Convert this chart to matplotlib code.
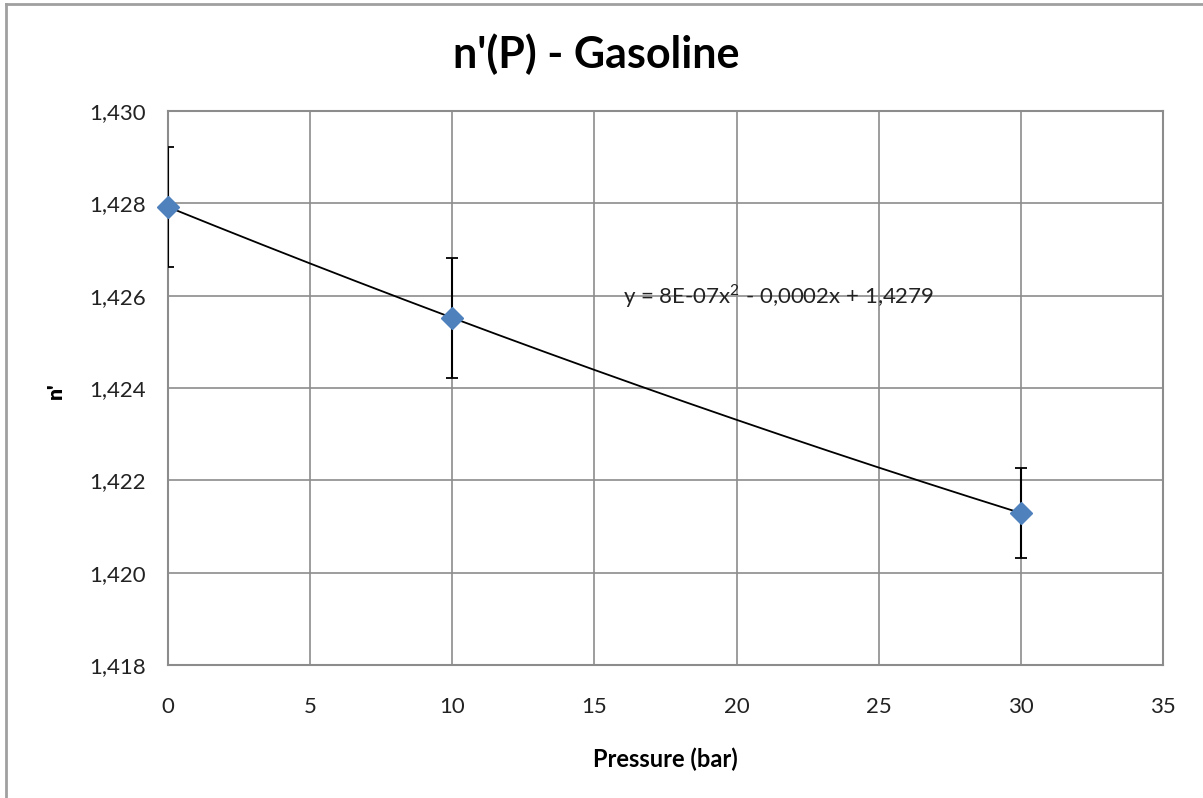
import numpy as np
import matplotlib
matplotlib.use("Agg")
import matplotlib.pyplot as plt
from matplotlib.ticker import FuncFormatter, MultipleLocator
from matplotlib.lines import Line2D

pressure = [0, 10, 30]
n_prime = [1.42792, 1.42552, 1.42129]
n_err = [0.0013, 0.0013, 0.00097]
title = "n'(P) - Gasoline"
x_label = "Pressure (bar)"
y_label = "n'"
equation = "y = 8E-07x$^2$ - 0,0002x + 1,4279"

plt.rcParams['font.family'] = ['Lato', 'DejaVu Sans']
plt.rcParams['mathtext.fontset'] = 'custom'
plt.rcParams['mathtext.rm'] = 'Lato'

fig = plt.figure(figsize=(12.03, 7.98), dpi=100)
ax = fig.add_axes([0.1397, 0.1667, 0.8271, 0.6942])

grid_c = '#8c8c8c'
ax.set_xlim(0, 35)
ax.set_ylim(1.418, 1.430)
ax.xaxis.set_major_locator(MultipleLocator(5))
ax.yaxis.set_major_locator(MultipleLocator(0.002))
ax.yaxis.set_major_formatter(FuncFormatter(lambda v, p: f"{v:.3f}".replace('.', ',')))
ax.grid(True, color=grid_c, linewidth=1.2)
ax.set_axisbelow(True)
for s in ax.spines.values():
    s.set_color(grid_c)
    s.set_linewidth(1.5)
ax.tick_params(length=0, labelsize=16, colors='#222222')
ax.tick_params(axis='y', pad=16)
ax.tick_params(axis='x', pad=23)

# trendline (2nd-order polynomial fit)
coef = np.polyfit(pressure, n_prime, 2)
xs = np.linspace(min(pressure), max(pressure), 200)
ax.plot(xs, np.polyval(coef, xs), color='black', linewidth=1.3, zorder=3)

ax.errorbar(pressure, n_prime, yerr=n_err, fmt='none', ecolor='black',
            elinewidth=1.5, capsize=4.5, capthick=1.3, zorder=4)
ax.plot(pressure, n_prime, linestyle='none', marker='D', markersize=11,
        color='#4F81BD', markeredgecolor='#4F81BD', zorder=5, clip_on=False)

ax.text(16.0, 1.426, equation, fontsize=16, ha='left', va='center',
        color='#222222', zorder=6)

ax.set_xlabel(x_label, fontsize=17, fontweight='bold', labelpad=22)
fig.text(0.0457, 0.511, y_label, rotation=90, fontsize=15, fontweight='heavy',
         ha='center', va='center')
fig.text(0.496, 0.932, title, fontsize=31, fontweight='bold', ha='center', va='center')

# outer chart border (top and left)
fig.add_artist(Line2D([0.005, 0.005], [0.0, 0.995], color='#a0a0a0', linewidth=2,
                      transform=fig.transFigure))
fig.add_artist(Line2D([0.005, 1.0], [0.995, 0.995], color='#a0a0a0', linewidth=2,
                      transform=fig.transFigure))

fig.savefig('out.png', dpi=100)
